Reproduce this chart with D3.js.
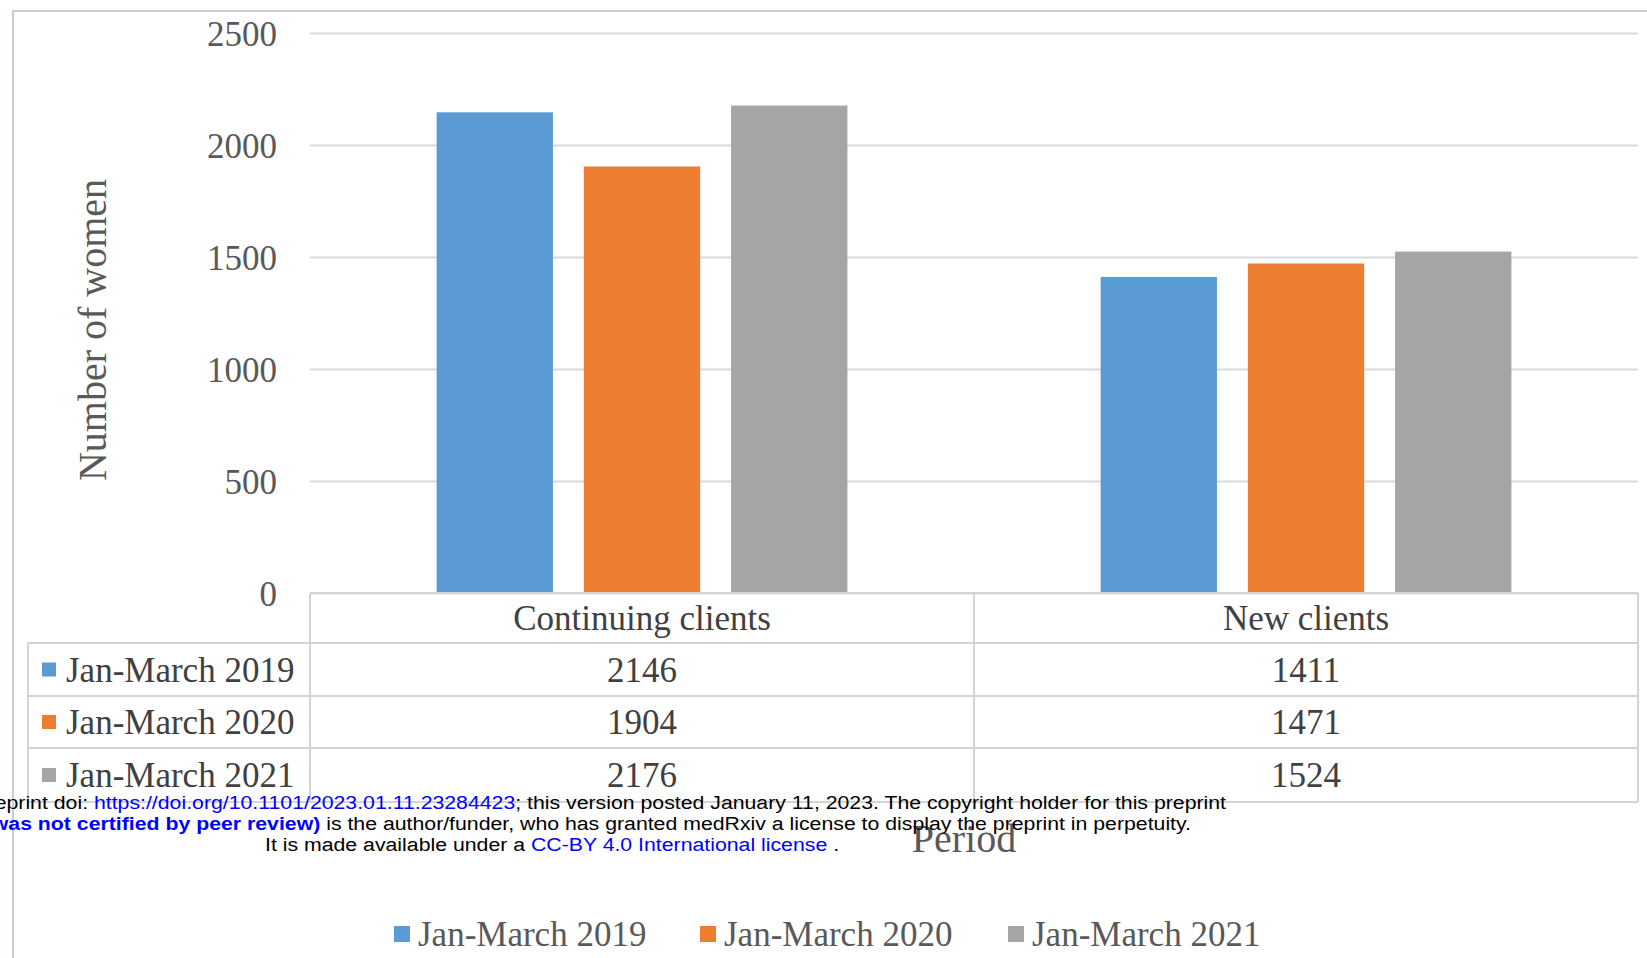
<!DOCTYPE html>
<html>
<head>
<meta charset="utf-8">
<script src="https://cdn.jsdelivr.net/npm/d3@7"></script>
<style>
  body { margin: 0; background: #fff; overflow: hidden; }
  svg { display: block; }
</style>
</head>
<body>
<div id="chart"></div>
<script>
var svgWidth = 1647;
var svgHeight = 958;

// data
var categories = ["Continuing clients", "New clients"];
var seriesNames = ["Jan-March 2019", "Jan-March 2020", "Jan-March 2021"];
var values2019 = [2146, 1411];
var values2020 = [1904, 1471];
var values2021 = [2176, 1524];
var yTicks = [0, 500, 1000, 1500, 2000, 2500];

var seriesValues = [values2019, values2020, values2021];
var colors = ["#5b9bd5", "#ed7d31", "#a5a5a5"];

var plot = { left: 310, right: 1638, top: 33, bottom: 593 };
var tableLeft = 28;
var rowLines = [593, 643, 696, 748, 802];

var serif = "'Liberation Serif', 'Times New Roman', serif";
var sans = "'Liberation Sans', Arial, sans-serif";

var svg = d3.select("#chart")
  .append("svg")
  .attr("width", svgWidth)
  .attr("height", svgHeight);

// outer frame (only top and left edges are visible)
svg.append("rect")
  .attr("x", 13)
  .attr("y", 11)
  .attr("width", svgWidth)
  .attr("height", svgHeight)
  .attr("fill", "none")
  .attr("stroke", "#c3cfdf")
  .attr("stroke-width", 2);

// scales
var x0 = d3.scaleBand()
  .domain(categories)
  .range([plot.left, plot.right]);

var x1 = d3.scaleBand()
  .domain(seriesNames)
  .range([0, x0.bandwidth()])
  .paddingInner(0.21)
  .paddingOuter(0.86);

var y = d3.scaleLinear()
  .domain([0, 2500])
  .range([plot.bottom, plot.top]);

// gridlines + tick labels
var yAxis = d3.axisLeft(y)
  .tickValues(yTicks)
  .tickFormat(d3.format("d"))
  .tickSize(-(plot.right - plot.left))
  .tickPadding(33);

var yAxisG = svg.append("g")
  .attr("transform", `translate(${plot.left}, 0)`)
  .call(yAxis);

yAxisG.select(".domain").remove();
yAxisG.selectAll(".tick line")
  .attr("stroke", "#d9d9d9")
  .attr("stroke-width", 2);
yAxisG.selectAll(".tick text")
  .attr("font-family", serif)
  .attr("font-size", 35)
  .attr("fill", "#595959")
  .attr("dy", "0.35em");

// bars
var groups = svg.append("g")
  .selectAll("g")
  .data(categories)
  .enter()
  .append("g")
  .attr("transform", d => `translate(${x0(d)}, 0)`);

groups.selectAll("rect")
  .data((d, i) => seriesNames.map((s, j) => ({ series: s, value: seriesValues[j][i], color: colors[j] })))
  .enter()
  .append("rect")
  .attr("x", d => x1(d.series))
  .attr("y", d => y(d.value))
  .attr("width", x1.bandwidth())
  .attr("height", d => y(0) - y(d.value))
  .attr("fill", d => d.color);

// data table
var table = svg.append("g")
  .attr("stroke", "#d4d4d4")
  .attr("stroke-width", 2)
  .attr("fill", "none");

rowLines.forEach(function(ly, i) {
  table.append("line")
    .attr("x1", i === 0 ? plot.left : tableLeft)
    .attr("x2", plot.right)
    .attr("y1", ly)
    .attr("y2", ly);
});

[tableLeft, plot.left, x0(categories[1]), plot.right].forEach(function(lx, i) {
  table.append("line")
    .attr("x1", lx)
    .attr("x2", lx)
    .attr("y1", i === 0 ? rowLines[1] : rowLines[0])
    .attr("y2", rowLines[4]);
});

// header row
svg.append("g")
  .selectAll("text")
  .data(categories)
  .enter()
  .append("text")
  .attr("x", d => x0(d) + x0.bandwidth() / 2)
  .attr("y", (rowLines[0] + rowLines[1]) / 2)
  .attr("dy", "0.35em")
  .attr("text-anchor", "middle")
  .attr("font-family", serif)
  .attr("font-size", 35)
  .attr("fill", "#404040")
  .text(d => d);

// series rows
seriesNames.forEach(function(s, j) {
  var cy = (rowLines[j + 1] + rowLines[j + 2]) / 2;

  svg.append("rect")
    .attr("x", 42)
    .attr("y", cy - 7)
    .attr("width", 14)
    .attr("height", 14)
    .attr("fill", colors[j]);

  svg.append("text")
    .attr("x", 66)
    .attr("y", cy)
    .attr("dy", "0.35em")
    .attr("font-family", serif)
    .attr("font-size", 35)
    .attr("fill", "#404040")
    .text(s);

  categories.forEach(function(c, i) {
    svg.append("text")
      .attr("x", x0(c) + x0.bandwidth() / 2)
      .attr("y", cy)
      .attr("dy", "0.35em")
      .attr("text-anchor", "middle")
      .attr("font-family", serif)
      .attr("font-size", 35)
      .attr("fill", "#404040")
      .text(seriesValues[j][i]);
  });
});

// axis titles
svg.append("text")
  .attr("transform", "translate(92, 330) rotate(-90)")
  .attr("dy", "0.35em")
  .attr("text-anchor", "middle")
  .attr("font-family", serif)
  .attr("font-size", 40)
  .attr("fill", "#595959")
  .text("Number of women");

svg.append("text")
  .attr("x", 964)
  .attr("y", 838)
  .attr("dy", "0.35em")
  .attr("text-anchor", "middle")
  .attr("font-family", serif)
  .attr("font-size", 40)
  .attr("fill", "#595959")
  .text("Period");

// bottom legend
var legendX = [394, 700, 1008];
var legend = svg.append("g")
  .selectAll("g")
  .data(seriesNames)
  .enter()
  .append("g")
  .attr("transform", (d, i) => `translate(${legendX[i]}, 934)`);

legend.append("rect")
  .attr("x", 0)
  .attr("y", -8)
  .attr("width", 16)
  .attr("height", 16)
  .attr("fill", (d, i) => colors[i]);

legend.append("text")
  .attr("x", 24)
  .attr("y", 0)
  .attr("dy", "0.35em")
  .attr("font-family", serif)
  .attr("font-size", 35)
  .attr("fill", "#595959")
  .text(d => d);

// medRxiv watermark lines (stretched a little wider, as in the scan)
var wm = svg.append("g")
  .attr("font-family", sans)
  .attr("font-size", 19)
  .attr("fill", "#000");

var line1 = wm.append("text")
  .attr("transform", "translate(1226, 809) scale(1.12, 1)")
  .attr("text-anchor", "end");
line1.append("tspan").text("medRxiv preprint doi: ");
line1.append("tspan").attr("fill", "#0000ff").text("https://doi.org/10.1101/2023.01.11.23284423");
line1.append("tspan").text("; this version posted January 11, 2023. The copyright holder for this preprint");

var line2 = wm.append("text")
  .attr("transform", "translate(1191, 830) scale(1.12, 1)")
  .attr("text-anchor", "end");
line2.append("tspan").attr("fill", "#0000ff").attr("font-weight", "bold").text("(which was not certified by peer review)");
line2.append("tspan").text(" is the author/funder, who has granted medRxiv a license to display the preprint in perpetuity.");

var line3 = wm.append("text")
  .attr("transform", "translate(265, 851) scale(1.12, 1)");
line3.append("tspan").text("It is made available under a ");
line3.append("tspan").attr("fill", "#0000ff").text("CC-BY 4.0 International license");
line3.append("tspan").text(" .");
</script>
</body>
</html>
